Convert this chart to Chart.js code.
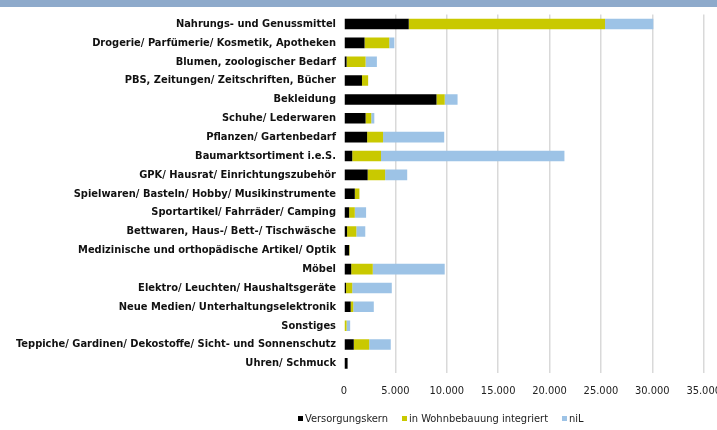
<!DOCTYPE html>
<html>
<head>
<meta charset="utf-8">
<script src="https://cdn.jsdelivr.net/npm/chart.js@4"></script>
<style>
  html, body { margin: 0; padding: 0; background: #fff; overflow: hidden; }
  #wrap { position: relative; width: 717px; height: 430px; overflow: hidden; }
  #kopf { position: absolute; left: 0; top: 0; width: 717px; height: 7px; background: #8eaacb; }
  #legende { position: absolute; left: 298px; top: 412px; font: 11px 'Liberation Sans Narrow', 'DejaVu Sans Condensed', Arial, sans-serif; color: #222; white-space: nowrap; }
  #legende span.item { margin-right: 14px; }
  #legende i { display: inline-block; width: 5px; height: 5px; margin-right: 2px; vertical-align: 1px; }
</style>
</head>
<body>
<div id="wrap">
  <canvas id="chart" width="733" height="430"></canvas>
  <div id="kopf"></div>
  <div id="legende"></div>
</div>
<script>
const kategorien = [
  'Nahrungs- und Genussmittel',
  'Drogerie/ Parfümerie/ Kosmetik, Apotheken',
  'Blumen, zoologischer Bedarf',
  'PBS, Zeitungen/ Zeitschriften, Bücher',
  'Bekleidung',
  'Schuhe/ Lederwaren',
  'Pflanzen/ Gartenbedarf',
  'Baumarktsortiment i.e.S.',
  'GPK/ Hausrat/ Einrichtungszubehör',
  'Spielwaren/ Basteln/ Hobby/ Musikinstrumente',
  'Sportartikel/ Fahrräder/ Camping',
  'Bettwaren, Haus-/ Bett-/ Tischwäsche',
  'Medizinische und orthopädische Artikel/ Optik',
  'Möbel',
  'Elektro/ Leuchten/ Haushaltsgeräte',
  'Neue Medien/ Unterhaltungselektronik',
  'Sonstiges',
  'Teppiche/ Gardinen/ Dekostoffe/ Sicht- und Sonnenschutz',
  'Uhren/ Schmuck'
];

// Verkaufsfläche je Lage (m²)
const versorgungskern = [6300, 2000, 250, 1750, 9000, 2100, 2250, 800, 2300, 1050, 500, 300, 500, 700, 200, 650, 0, 950, 350];
const wohnbebauung    = [19100, 2400, 1850, 600, 800, 550, 1550, 2800, 1700, 450, 550, 900, 50, 2100, 600, 250, 250, 1500, 0];
const nil             = [4700, 500, 1100, 0, 1250, 300, 5950, 17850, 2150, 0, 1100, 870, 0, 7000, 3850, 2000, 350, 2100, 0];

const achsenTicks = [0, 5000, 10000, 15000, 20000, 25000, 30000, 35000];

const schrift = "'Liberation Sans Narrow', 'DejaVu Sans Condensed', Arial, sans-serif";

const datensaetze = [
  { label: 'Versorgungskern', data: versorgungskern, backgroundColor: '#000000' },
  { label: 'in Wohnbebauung integriert', data: wohnbebauung, backgroundColor: '#c9c900' },
  { label: 'niL', data: nil, backgroundColor: '#9dc3e6' }
];

const chart = new Chart(document.getElementById('chart'), {
  type: 'bar',
  data: {
    labels: kategorien,
    datasets: datensaetze.map(d => Object.assign({ borderWidth: 0, barPercentage: 0.56, categoryPercentage: 1 }, d))
  },
  options: {
    indexAxis: 'y',
    responsive: false,
    animation: false,
    layout: { padding: { top: 8, bottom: 20, right: 0 } },
    plugins: { legend: { display: false }, tooltip: { enabled: false } },
    scales: {
      x: {
        stacked: true,
        min: 0,
        max: 35000,
        afterBuildTicks: s => { s.ticks = achsenTicks.map(v => ({ value: v })); },
        border: { display: false },
        grid: {
          drawTicks: false,
          lineWidth: 1.5,
          color: c => (c.tick && c.tick.value === 0) ? 'rgba(0,0,0,0)' : '#d9d9d9'
        },
        ticks: {
          padding: 12,
          color: '#222',
          font: { family: schrift, size: 11 },
          callback: v => v.toLocaleString('de-DE')
        }
      },
      y: {
        stacked: true,
        afterFit: s => { s.width = 344; },
        border: { display: false },
        grid: { display: false, drawTicks: false },
        ticks: {
          padding: 8,
          autoSkip: false,
          color: '#111',
          font: { family: schrift, size: 11, weight: 'bold' }
        }
      }
    }
  }
});

// Legende
const leg = document.getElementById('legende');
datensaetze.forEach(d => {
  const s = document.createElement('span');
  s.className = 'item';
  s.innerHTML = '<i style="background:' + d.backgroundColor + '"></i>' + d.label;
  leg.appendChild(s);
});
</script>
</body>
</html>
